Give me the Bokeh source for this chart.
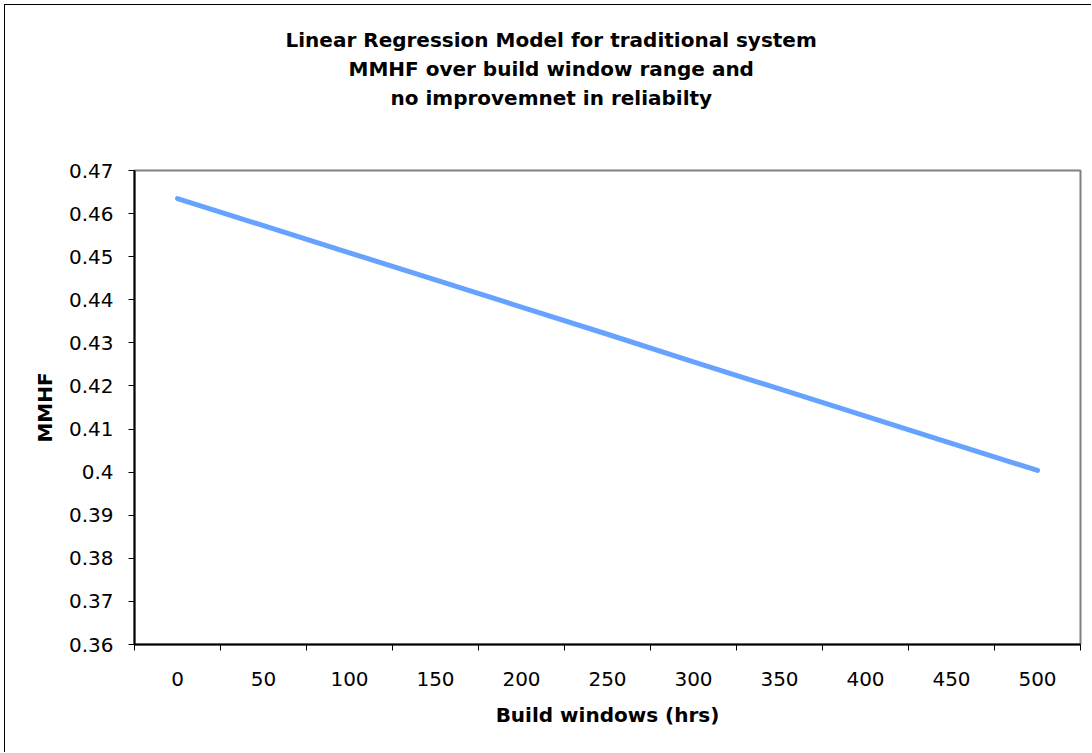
from bokeh.plotting import figure
from bokeh.models import FixedTicker, Title, Range1d
from bokeh.embed import file_html
from bokeh.resources import INLINE

# ---- data ----
hours = [0, 50, 100, 150, 200, 250, 300, 350, 400, 450, 500]
mmhf = [0.4635, 0.4572, 0.4509, 0.4446, 0.4383, 0.4320, 0.4256, 0.4193, 0.4130, 0.4067, 0.4004]
y_ticks = [0.36, 0.37, 0.38, 0.39, 0.40, 0.41, 0.42, 0.43, 0.44, 0.45, 0.46, 0.47]
y_tick_labels = ["0.36", "0.37", "0.38", "0.39", "0.4", "0.41", "0.42", "0.43", "0.44", "0.45", "0.46", "0.47"]
x_boundaries = [-25, 25, 75, 125, 175, 225, 275, 325, 375, 425, 475, 525]
title_lines = ["Linear Regression Model for traditional system",
               "MMHF over build window range and",
               "no improvemnet in reliabilty"]
title_offsets = [151, 214, 256]
x_title = "Build windows (hrs)"
y_title = "MMHF"

p = figure(width=1087, height=748, output_backend="svg", toolbar_location=None,
           x_range=Range1d(-25, 525), y_range=Range1d(0.36, 0.47),
           min_border_left=129, min_border_top=165, min_border_bottom=109, min_border_right=12,
           styles={"margin-left": "4px", "margin-top": "4px",
                   "border-left": "1px solid black", "border-top": "1px solid black",
                   "border-right": "none", "border-bottom": "none"})
p.background_fill_color = "white"
p.border_fill_color = "white"
p.outline_line_color = "#808080"
p.outline_line_width = 2
p.xgrid.visible = False
p.ygrid.visible = False

p.line(hours, mmhf, line_color="#66A3FF", line_width=5, line_cap="round")

# x axis
xa = p.xaxis[0]
xa.ticker = FixedTicker(ticks=hours, minor_ticks=x_boundaries)
xa.major_tick_out = 0
xa.major_tick_in = 0
xa.minor_tick_out = 6
xa.minor_tick_in = 0
xa.minor_tick_line_color = "black"
xa.minor_tick_line_width = 1
xa.axis_line_color = "black"
xa.axis_line_width = 2
xa.major_label_text_font = "DejaVu Sans"
xa.major_label_text_font_size = "20px"
xa.major_label_text_color = "black"
xa.major_label_standoff = 21
xa.axis_label = x_title
xa.axis_label_text_font = "DejaVu Sans"
xa.axis_label_text_font_style = "bold"
xa.axis_label_text_font_size = "20px"
xa.axis_label_text_color = "black"
xa.axis_label_standoff = 14

# y axis
ya = p.yaxis[0]
ya.ticker = FixedTicker(ticks=y_ticks, minor_ticks=[])
ya.major_label_overrides = {t: s for t, s in zip(y_ticks, y_tick_labels)}
ya.major_tick_out = 6
ya.major_tick_in = 0
ya.major_tick_line_color = "black"
ya.axis_line_color = "black"
ya.axis_line_width = 2
ya.major_label_text_font = "DejaVu Sans"
ya.major_label_text_font_size = "20px"
ya.major_label_text_color = "black"
ya.major_label_standoff = 15
ya.axis_label = y_title
ya.axis_label_text_font = "DejaVu Sans"
ya.axis_label_text_font_style = "bold"
ya.axis_label_text_font_size = "20px"
ya.axis_label_text_color = "black"
ya.axis_label_standoff = 9

# spacer between title block and frame, then title lines (added nearest-first)
p.add_layout(Title(text=" ", text_font_size="42px", align="left"), "above")
for txt, off in zip(reversed(title_lines), reversed(title_offsets)):
    p.add_layout(Title(text=txt, align="left", offset=off,
                       text_font="DejaVu Sans", text_font_style="bold",
                       text_font_size="20px", text_color="black", standoff=3), "above")

open("out.html", "w").write(file_html(p, INLINE))
